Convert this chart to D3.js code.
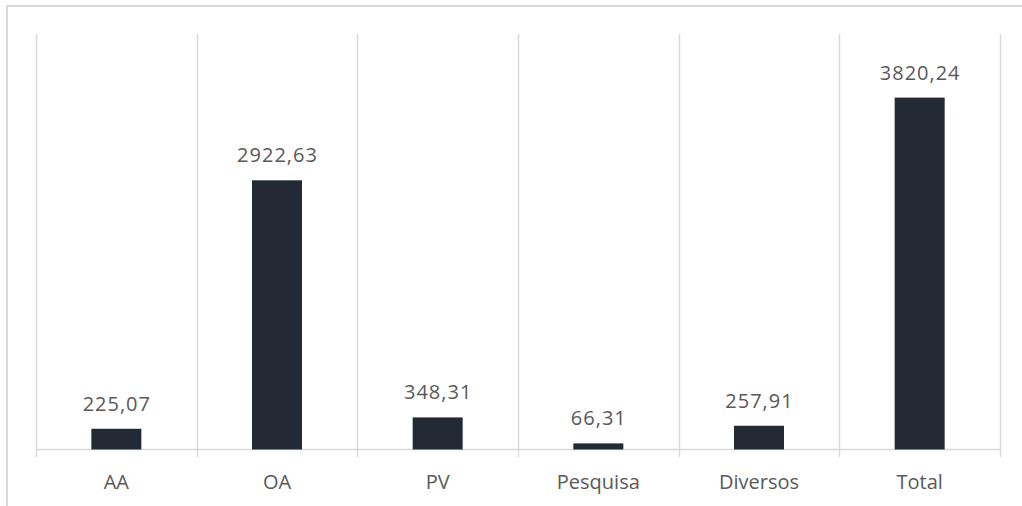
<!DOCTYPE html>
<html><head><meta charset="utf-8">
<script src="https://cdn.jsdelivr.net/npm/d3@7"></script>
<style>html,body{margin:0;padding:0;background:#fff;overflow:hidden}svg{display:block}</style>
</head><body>
<svg id="c" width="1022" height="506"></svg>
<script>
const categories = ["AA", "OA", "PV", "Pesquisa", "Diversos", "Total"];
const values = [225.07, 2922.63, 348.31, 66.31, 257.91, 3820.24];
const valueLabels = ["225,07", "2922,63", "348,31", "66,31", "257,91", "3820,24"];

(function () {
const svg = d3.select("#c");
const plotLeft = 36, plotRight = 1000, plotTop = 35, baseline = 449.5;

// outer chart border (only top/left visible)
svg.append("rect").attr("x", 7).attr("y", 6).attr("width", 1030).attr("height", 520)
  .attr("fill", "none").attr("stroke", "#d9d9d9").attr("stroke-width", 2);

const x = d3.scaleBand().domain(categories).range([plotLeft, plotRight]).paddingInner(0).paddingOuter(0);
const y = d3.scaleLinear().domain([0, 4500]).range([baseline, plotTop]);

// vertical gridlines between categories
const bounds = categories.map(c => x(c)).concat([plotRight]);
svg.append("g").selectAll("line").data(bounds).join("line")
  .attr("x1", d => Math.round(d) + 0.5).attr("x2", d => Math.round(d) + 0.5)
  .attr("y1", plotTop - 1).attr("y2", 457)
  .attr("stroke", "#d9d9d9").attr("stroke-width", 1.5);

// baseline
svg.append("line").attr("x1", plotLeft).attr("x2", plotRight).attr("y1", baseline).attr("y2", baseline)
  .attr("stroke", "#d9d9d9").attr("stroke-width", 1.5);

const barW = 50;
svg.append("g").selectAll("rect").data(values).join("rect")
  .attr("x", (d, i) => x(categories[i]) + x.bandwidth() / 2 - barW / 2)
  .attr("y", d => y(d))
  .attr("width", barW)
  .attr("height", d => y(0) - y(d))
  .attr("fill", "#232a36");

svg.append("g").selectAll("text").data(values).join("text")
  .attr("x", (d, i) => x(categories[i]) + x.bandwidth() / 2 + 0.5)
  .attr("y", d => y(d) - 18)
  .attr("text-anchor", "middle")
  .attr("font-family", "Open Sans, sans-serif")
  .attr("font-size", 20)
  .attr("letter-spacing", 1)
  .attr("fill", "#595959")
  .text((d, i) => valueLabels[i]);

svg.append("g").selectAll("text").data(categories).join("text")
  .attr("x", d => x(d) + x.bandwidth() / 2)
  .attr("y", 489)
  .attr("text-anchor", "middle")
  .attr("font-family", "Open Sans, sans-serif")
  .attr("font-size", 20)
  .attr("fill", "#595959")
  .text(d => d);
})();
</script>
</body></html>
